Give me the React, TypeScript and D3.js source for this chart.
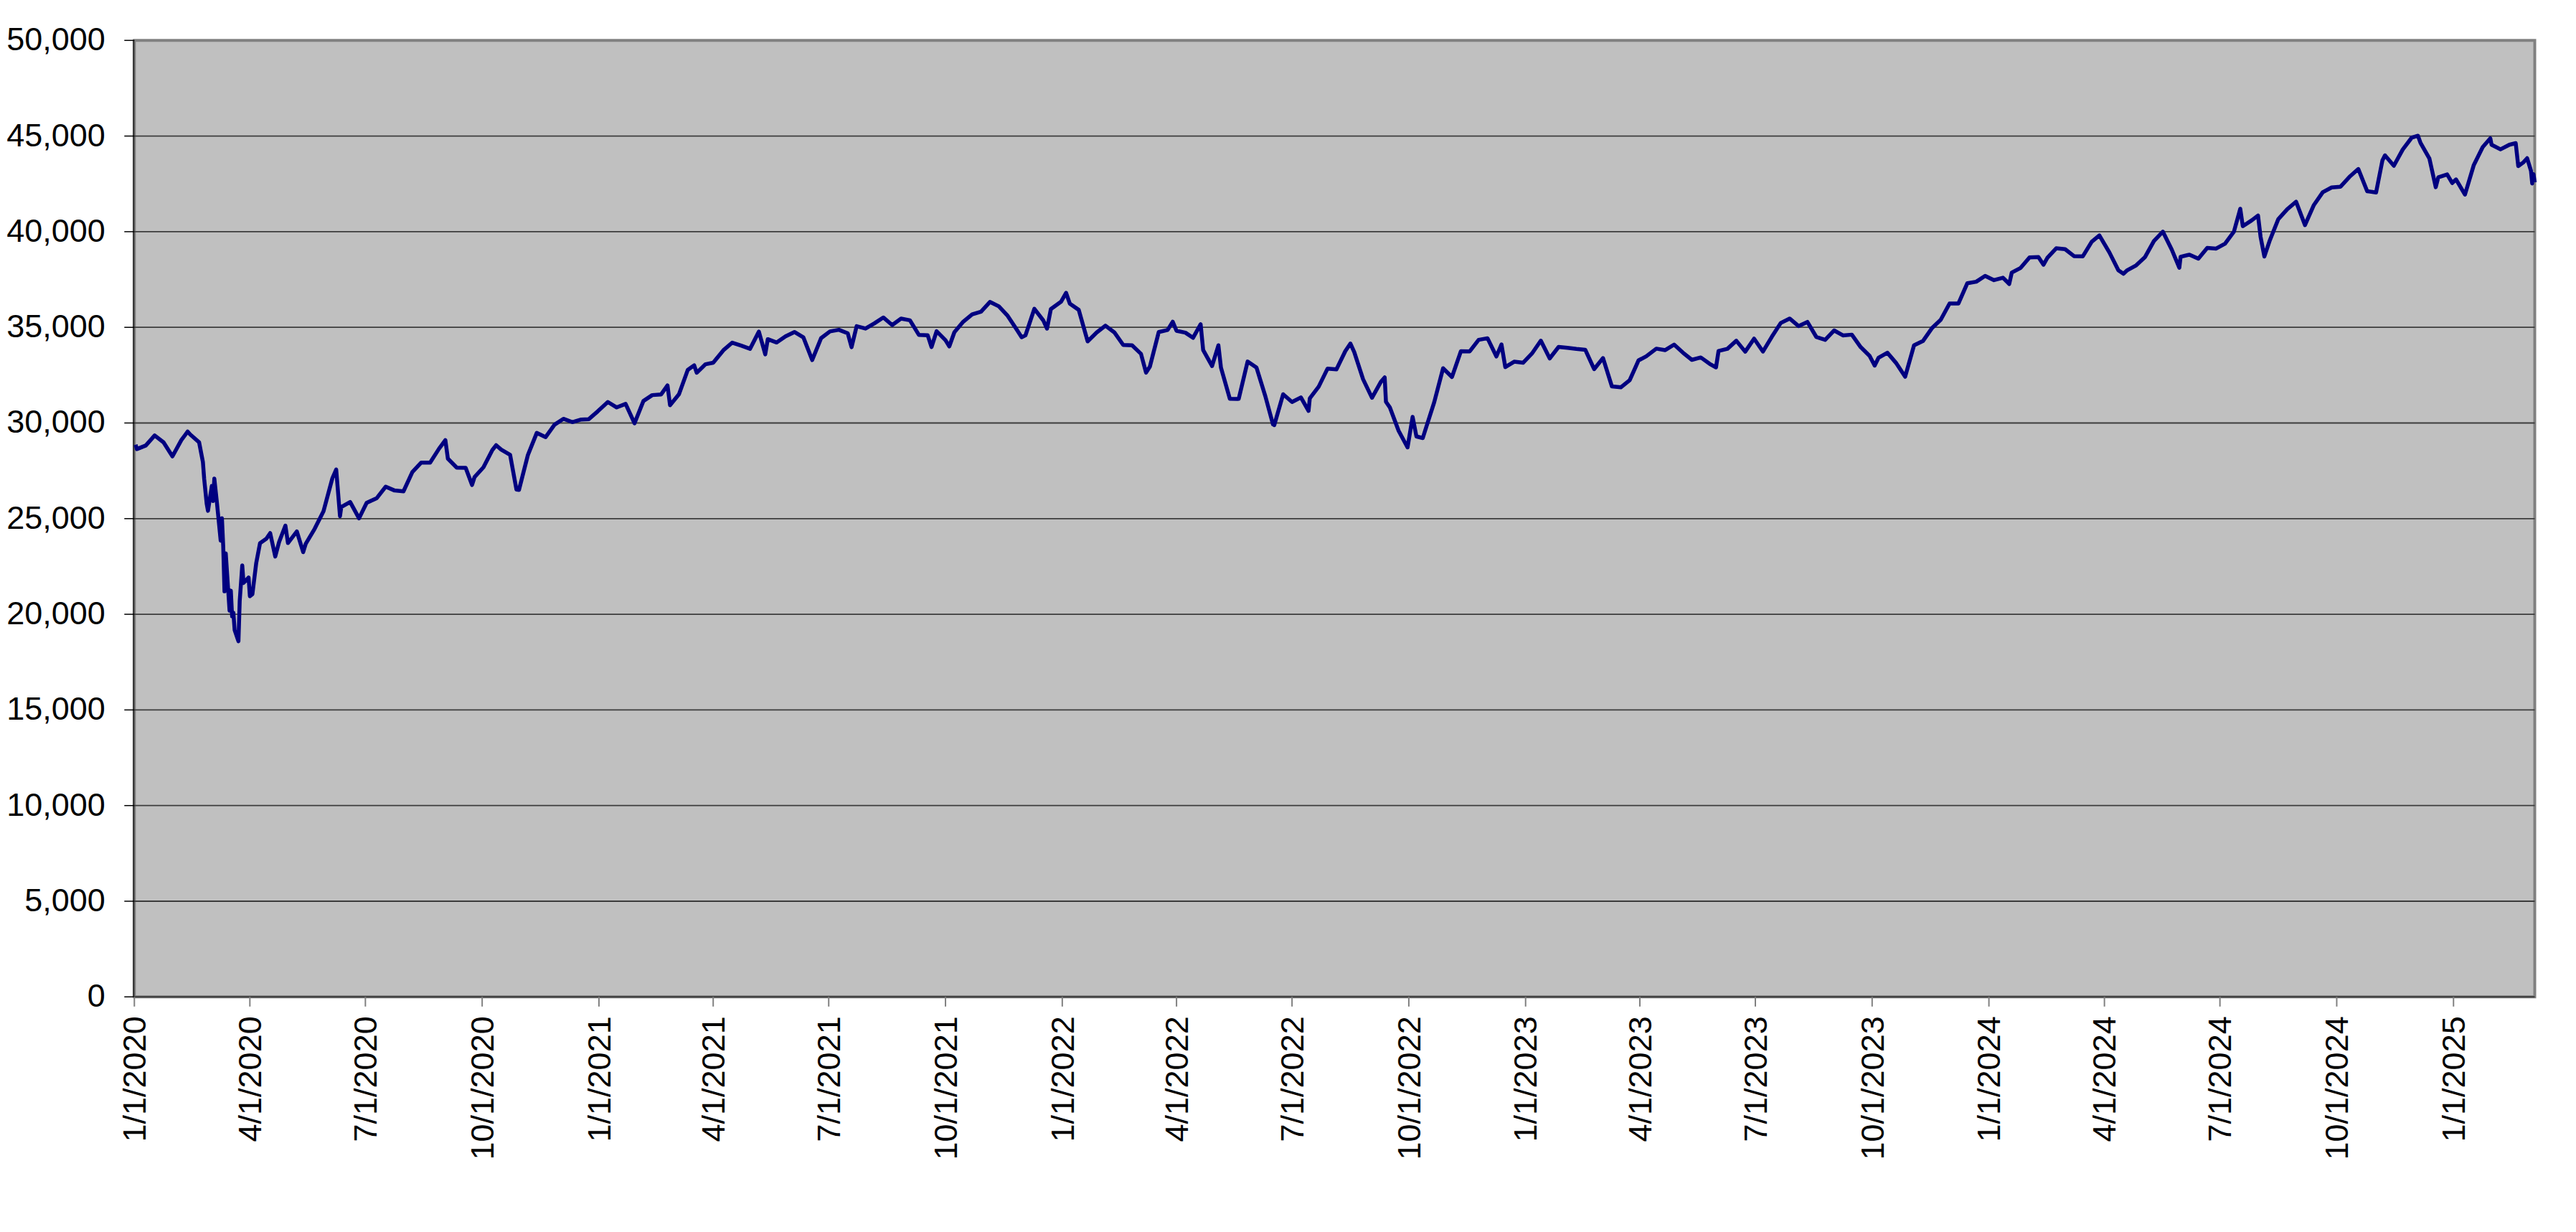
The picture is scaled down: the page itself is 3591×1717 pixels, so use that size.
import { line, scaleLinear, scaleTime, timeFormat, timeMonth, timeParse } from "d3";

// Weekly closes (plus a few notable days)
const closes2020: [string, number][] = [
  ["2020-01-02", 28868], ["2020-01-03", 28634], ["2020-01-10", 28823], ["2020-01-17", 29348],
  ["2020-01-24", 28989], ["2020-01-31", 28256], ["2020-02-07", 29102], ["2020-02-12", 29551],
  ["2020-02-14", 29398], ["2020-02-21", 28992], ["2020-02-24", 27961], ["2020-02-25", 27081],
  ["2020-02-27", 25767], ["2020-02-28", 25409], ["2020-03-02", 26703], ["2020-03-03", 25917],
  ["2020-03-04", 27091], ["2020-03-06", 25865], ["2020-03-09", 23851], ["2020-03-10", 25018],
  ["2020-03-11", 23553], ["2020-03-12", 21200], ["2020-03-13", 23186], ["2020-03-16", 20189],
  ["2020-03-17", 21237], ["2020-03-18", 19899], ["2020-03-19", 20087], ["2020-03-20", 19174],
  ["2020-03-23", 18592], ["2020-03-24", 20704], ["2020-03-26", 22552], ["2020-03-27", 21637],
  ["2020-03-31", 21917], ["2020-04-01", 20944], ["2020-04-03", 21053], ["2020-04-06", 22680],
  ["2020-04-09", 23719], ["2020-04-14", 23949], ["2020-04-17", 24242], ["2020-04-21", 23019],
  ["2020-04-24", 23775], ["2020-04-29", 24634], ["2020-05-01", 23724], ["2020-05-08", 24331],
  ["2020-05-13", 23248], ["2020-05-15", 23685], ["2020-05-22", 24465], ["2020-05-29", 25383],
  ["2020-06-05", 27111], ["2020-06-08", 27572], ["2020-06-11", 25128], ["2020-06-12", 25606],
  ["2020-06-19", 25871], ["2020-06-26", 25016], ["2020-07-02", 25827], ["2020-07-10", 26075],
  ["2020-07-17", 26672], ["2020-07-24", 26470], ["2020-07-31", 26428], ["2020-08-07", 27433],
  ["2020-08-14", 27931], ["2020-08-21", 27930], ["2020-08-28", 28654], ["2020-09-02", 29100],
  ["2020-09-04", 28133], ["2020-09-11", 27666], ["2020-09-18", 27657], ["2020-09-23", 26763],
  ["2020-09-25", 27174], ["2020-10-02", 27683], ["2020-10-09", 28587], ["2020-10-12", 28838],
  ["2020-10-16", 28606], ["2020-10-23", 28336], ["2020-10-28", 26520], ["2020-10-30", 26502],
  ["2020-11-06", 28323], ["2020-11-13", 29480], ["2020-11-20", 29263], ["2020-11-27", 29910],
  ["2020-12-04", 30218], ["2020-12-11", 30046], ["2020-12-18", 30179], ["2020-12-24", 30200],
  ["2020-12-31", 30606],
];

const closes2021: [string, number][] = [
  ["2021-01-08", 31098], ["2021-01-15", 30814], ["2021-01-22", 30997], ["2021-01-29", 29983],
  ["2021-02-05", 31148], ["2021-02-12", 31458], ["2021-02-19", 31494], ["2021-02-24", 31962],
  ["2021-02-26", 30932], ["2021-03-05", 31496], ["2021-03-12", 32779], ["2021-03-17", 33015],
  ["2021-03-19", 32628], ["2021-03-26", 33073], ["2021-04-01", 33153], ["2021-04-09", 33801],
  ["2021-04-16", 34200], ["2021-04-23", 34043], ["2021-04-30", 33875], ["2021-05-07", 34778],
  ["2021-05-12", 33587], ["2021-05-14", 34382], ["2021-05-21", 34208], ["2021-05-28", 34529],
  ["2021-06-04", 34756], ["2021-06-11", 34480], ["2021-06-18", 33290], ["2021-06-25", 34434],
  ["2021-07-02", 34786], ["2021-07-09", 34870], ["2021-07-16", 34687], ["2021-07-19", 33962],
  ["2021-07-23", 35062], ["2021-07-30", 34935], ["2021-08-06", 35209], ["2021-08-13", 35515],
  ["2021-08-20", 35120], ["2021-08-27", 35455], ["2021-09-03", 35369], ["2021-09-10", 34608],
  ["2021-09-17", 34584], ["2021-09-20", 33970], ["2021-09-24", 34798], ["2021-10-01", 34326],
  ["2021-10-04", 34003], ["2021-10-08", 34746], ["2021-10-15", 35295], ["2021-10-22", 35677],
  ["2021-10-29", 35820], ["2021-11-05", 36328], ["2021-11-12", 36100], ["2021-11-19", 35602],
  ["2021-11-26", 34899], ["2021-11-30", 34484], ["2021-12-03", 34580], ["2021-12-10", 35971],
  ["2021-12-17", 35365], ["2021-12-20", 34932], ["2021-12-23", 35951], ["2021-12-31", 36338],
];

const closes2022: [string, number][] = [
  ["2022-01-04", 36799], ["2022-01-07", 36232], ["2022-01-14", 35912], ["2022-01-21", 34265],
  ["2022-01-28", 34725], ["2022-02-04", 35089], ["2022-02-11", 34738], ["2022-02-18", 34079],
  ["2022-02-25", 34059], ["2022-03-04", 33615], ["2022-03-08", 32632], ["2022-03-11", 32944],
  ["2022-03-18", 34755], ["2022-03-25", 34861], ["2022-03-29", 35294], ["2022-04-01", 34818],
  ["2022-04-08", 34721], ["2022-04-14", 34451], ["2022-04-20", 35161], ["2022-04-22", 33811],
  ["2022-04-29", 32977], ["2022-05-04", 34061], ["2022-05-06", 32899], ["2022-05-13", 31262],
  ["2022-05-19", 31253], ["2022-05-20", 31262], ["2022-05-27", 33213], ["2022-06-03", 32900],
  ["2022-06-10", 31393], ["2022-06-16", 29927], ["2022-06-17", 29888], ["2022-06-24", 31501],
  ["2022-07-01", 31097], ["2022-07-08", 31338], ["2022-07-14", 30630], ["2022-07-15", 31288],
  ["2022-07-22", 31899], ["2022-07-29", 32845], ["2022-08-05", 32803], ["2022-08-12", 33761],
  ["2022-08-16", 34152], ["2022-08-19", 33706], ["2022-08-26", 32283], ["2022-09-02", 31318],
  ["2022-09-09", 32152], ["2022-09-12", 32381], ["2022-09-13", 31105], ["2022-09-16", 30822],
  ["2022-09-23", 29590], ["2022-09-30", 28726], ["2022-10-04", 30317], ["2022-10-07", 29297],
  ["2022-10-12", 29211], ["2022-10-14", 29635], ["2022-10-21", 31083], ["2022-10-28", 32862],
  ["2022-11-04", 32403], ["2022-11-11", 33748], ["2022-11-18", 33746], ["2022-11-25", 34347],
  ["2022-12-02", 34430], ["2022-12-09", 33477], ["2022-12-13", 34108], ["2022-12-16", 32920],
  ["2022-12-23", 33204], ["2022-12-30", 33147],
];

const closes2023: [string, number][] = [
  ["2023-01-06", 33631], ["2023-01-13", 34303], ["2023-01-20", 33375], ["2023-01-27", 33978],
  ["2023-02-03", 33926], ["2023-02-10", 33869], ["2023-02-17", 33827], ["2023-02-24", 32817],
  ["2023-03-03", 33391], ["2023-03-10", 31910], ["2023-03-17", 31862], ["2023-03-24", 32238],
  ["2023-03-31", 33274], ["2023-04-06", 33485], ["2023-04-14", 33886], ["2023-04-21", 33809],
  ["2023-04-28", 34098], ["2023-05-05", 33674], ["2023-05-12", 33301], ["2023-05-19", 33427],
  ["2023-05-26", 33093], ["2023-05-31", 32908], ["2023-06-02", 33762], ["2023-06-09", 33877],
  ["2023-06-16", 34299], ["2023-06-23", 33727], ["2023-06-30", 34408], ["2023-07-07", 33734],
  ["2023-07-14", 34509], ["2023-07-21", 35228], ["2023-07-28", 35459], ["2023-08-04", 35066],
  ["2023-08-11", 35281], ["2023-08-18", 34500], ["2023-08-25", 34347], ["2023-09-01", 34838],
  ["2023-09-08", 34577], ["2023-09-15", 34618], ["2023-09-22", 33964], ["2023-09-29", 33508],
  ["2023-10-03", 33002], ["2023-10-06", 33407], ["2023-10-13", 33670], ["2023-10-20", 33127],
  ["2023-10-27", 32418], ["2023-11-03", 34061], ["2023-11-10", 34283], ["2023-11-17", 34947],
  ["2023-11-24", 35390], ["2023-12-01", 36246], ["2023-12-08", 36248], ["2023-12-15", 37306],
  ["2023-12-22", 37386], ["2023-12-29", 37690],
];

const closes2024: [string, number][] = [
  ["2024-01-05", 37466], ["2024-01-12", 37593], ["2024-01-17", 37267], ["2024-01-19", 37863],
  ["2024-01-26", 38109], ["2024-02-02", 38654], ["2024-02-09", 38671], ["2024-02-13", 38273],
  ["2024-02-16", 38628], ["2024-02-23", 39131], ["2024-03-01", 39087], ["2024-03-08", 38723],
  ["2024-03-15", 38715], ["2024-03-22", 39476], ["2024-03-28", 39807], ["2024-04-05", 38904],
  ["2024-04-12", 37983], ["2024-04-16", 37799], ["2024-04-19", 37986], ["2024-04-26", 38240],
  ["2024-05-03", 38676], ["2024-05-10", 39513], ["2024-05-17", 40004], ["2024-05-24", 39070],
  ["2024-05-30", 38112], ["2024-05-31", 38686], ["2024-06-07", 38799], ["2024-06-14", 38589],
  ["2024-06-21", 39150], ["2024-06-28", 39119], ["2024-07-05", 39376], ["2024-07-12", 40001],
  ["2024-07-17", 41198], ["2024-07-19", 40288], ["2024-07-26", 40590], ["2024-07-31", 40843],
  ["2024-08-02", 39737], ["2024-08-05", 38703], ["2024-08-09", 39497], ["2024-08-16", 40660],
  ["2024-08-23", 41175], ["2024-08-30", 41563], ["2024-09-06", 40345], ["2024-09-13", 41394],
  ["2024-09-20", 42063], ["2024-09-27", 42313], ["2024-10-04", 42353], ["2024-10-11", 42864],
  ["2024-10-18", 43276], ["2024-10-25", 42115], ["2024-11-01", 42052], ["2024-11-06", 43730],
  ["2024-11-08", 43989], ["2024-11-15", 43445], ["2024-11-22", 44297], ["2024-11-29", 44911],
  ["2024-12-04", 45014], ["2024-12-06", 44643], ["2024-12-13", 43828], ["2024-12-18", 42327],
  ["2024-12-20", 42840], ["2024-12-27", 42992], ["2024-12-31", 42544],
];

const closes2025: [string, number][] = [
  ["2025-01-03", 42732], ["2025-01-10", 41938], ["2025-01-17", 43488], ["2025-01-24", 44424],
  ["2025-01-30", 44882], ["2025-01-31", 44545], ["2025-02-07", 44303], ["2025-02-14", 44546],
  ["2025-02-19", 44627], ["2025-02-21", 43428], ["2025-02-25", 43621], ["2025-02-28", 43841],
  ["2025-03-03", 43191], ["2025-03-04", 42521], ["2025-03-05", 43006], ["2025-03-06", 42579],
];

const yTickValues = [0, 5000, 10000, 15000, 20000, 25000, 30000, 35000, 40000, 45000, 50000];
const axisStart = "2020-01-01";
const axisEnd = "2025-03-06";

const parseDate = timeParse("%Y-%m-%d");
const formatTick = timeFormat("%-m/%-d/%Y");
const formatValue = (v: number) => v.toLocaleString("en-US");

export default function App() {
  const width = 3591;
  const height = 1717;
  const margin = { top: 56.3, right: 57.5, bottom: 327.7, left: 187.3 };
  const innerW = width - margin.left - margin.right;
  const innerH = height - margin.top - margin.bottom;

  const series = [...closes2020, ...closes2021, ...closes2022, ...closes2023, ...closes2024, ...closes2025].map(
    ([d, v]) => ({ date: parseDate(d) as Date, value: v }),
  );

  const start = parseDate(axisStart) as Date;
  const end = parseDate(axisEnd) as Date;
  const x = scaleTime().domain([start, end]).range([0, innerW]);
  const y = scaleLinear().domain([0, 50000]).range([innerH, 0]);
  const xTicks = timeMonth.every(3)!.range(start, end);

  const path =
    line<{ date: Date; value: number }>()
      .x((d) => x(d.date))
      .y((d) => y(d.value))(series) || "";

  const font = "'Liberation Sans', Arial, sans-serif";

  return (
    <div style={{ position: "absolute", left: 0, top: 0 }}>
      <svg width={width} height={height} style={{ display: "block", background: "#fff" }}>
        <g transform={`translate(${margin.left},${margin.top})`}>
          <rect x={0} y={0} width={innerW} height={innerH} fill="#C0C0C0" stroke="#808080" strokeWidth={4} />
          {yTickValues.slice(1, -1).map((t) => (
            <line key={t} x1={0} x2={innerW} y1={y(t)} y2={y(t)} stroke="#3c3c3c" strokeWidth={1.8} />
          ))}
          {/* axes */}
          <line x1={-1} x2={-1} y1={0} y2={innerH} stroke="#3a3a3a" strokeWidth={2.5} />
          <line x1={-1} x2={innerW} y1={innerH} y2={innerH} stroke="#3a3a3a" strokeWidth={2} />
          {yTickValues.map((t) => (
            <g key={t} transform={`translate(0,${y(t)})`}>
              <line x1={-14} x2={0} stroke="#000" strokeWidth={1.5} />
              <text x={-40.5} dy="0.31em" textAnchor="end" fontFamily={font} fontSize={45} fill="#000">
                {formatValue(t)}
              </text>
            </g>
          ))}
          {xTicks.map((d) => (
            <g key={d.getTime()} transform={`translate(${x(d)},${innerH})`}>
              <line y1={0} y2={13.5} stroke="#808080" strokeWidth={2} />
              <text
                transform="translate(0,27) rotate(-90)"
                dy="0.35em"
                textAnchor="end"
                fontFamily={font}
                fontSize={45}
                fill="#000"
              >
                {formatTick(d)}
              </text>
            </g>
          ))}
          <path d={path} fill="none" stroke="#000080" strokeWidth={5.5} strokeLinejoin="round" />
        </g>
      </svg>
    </div>
  );
}
